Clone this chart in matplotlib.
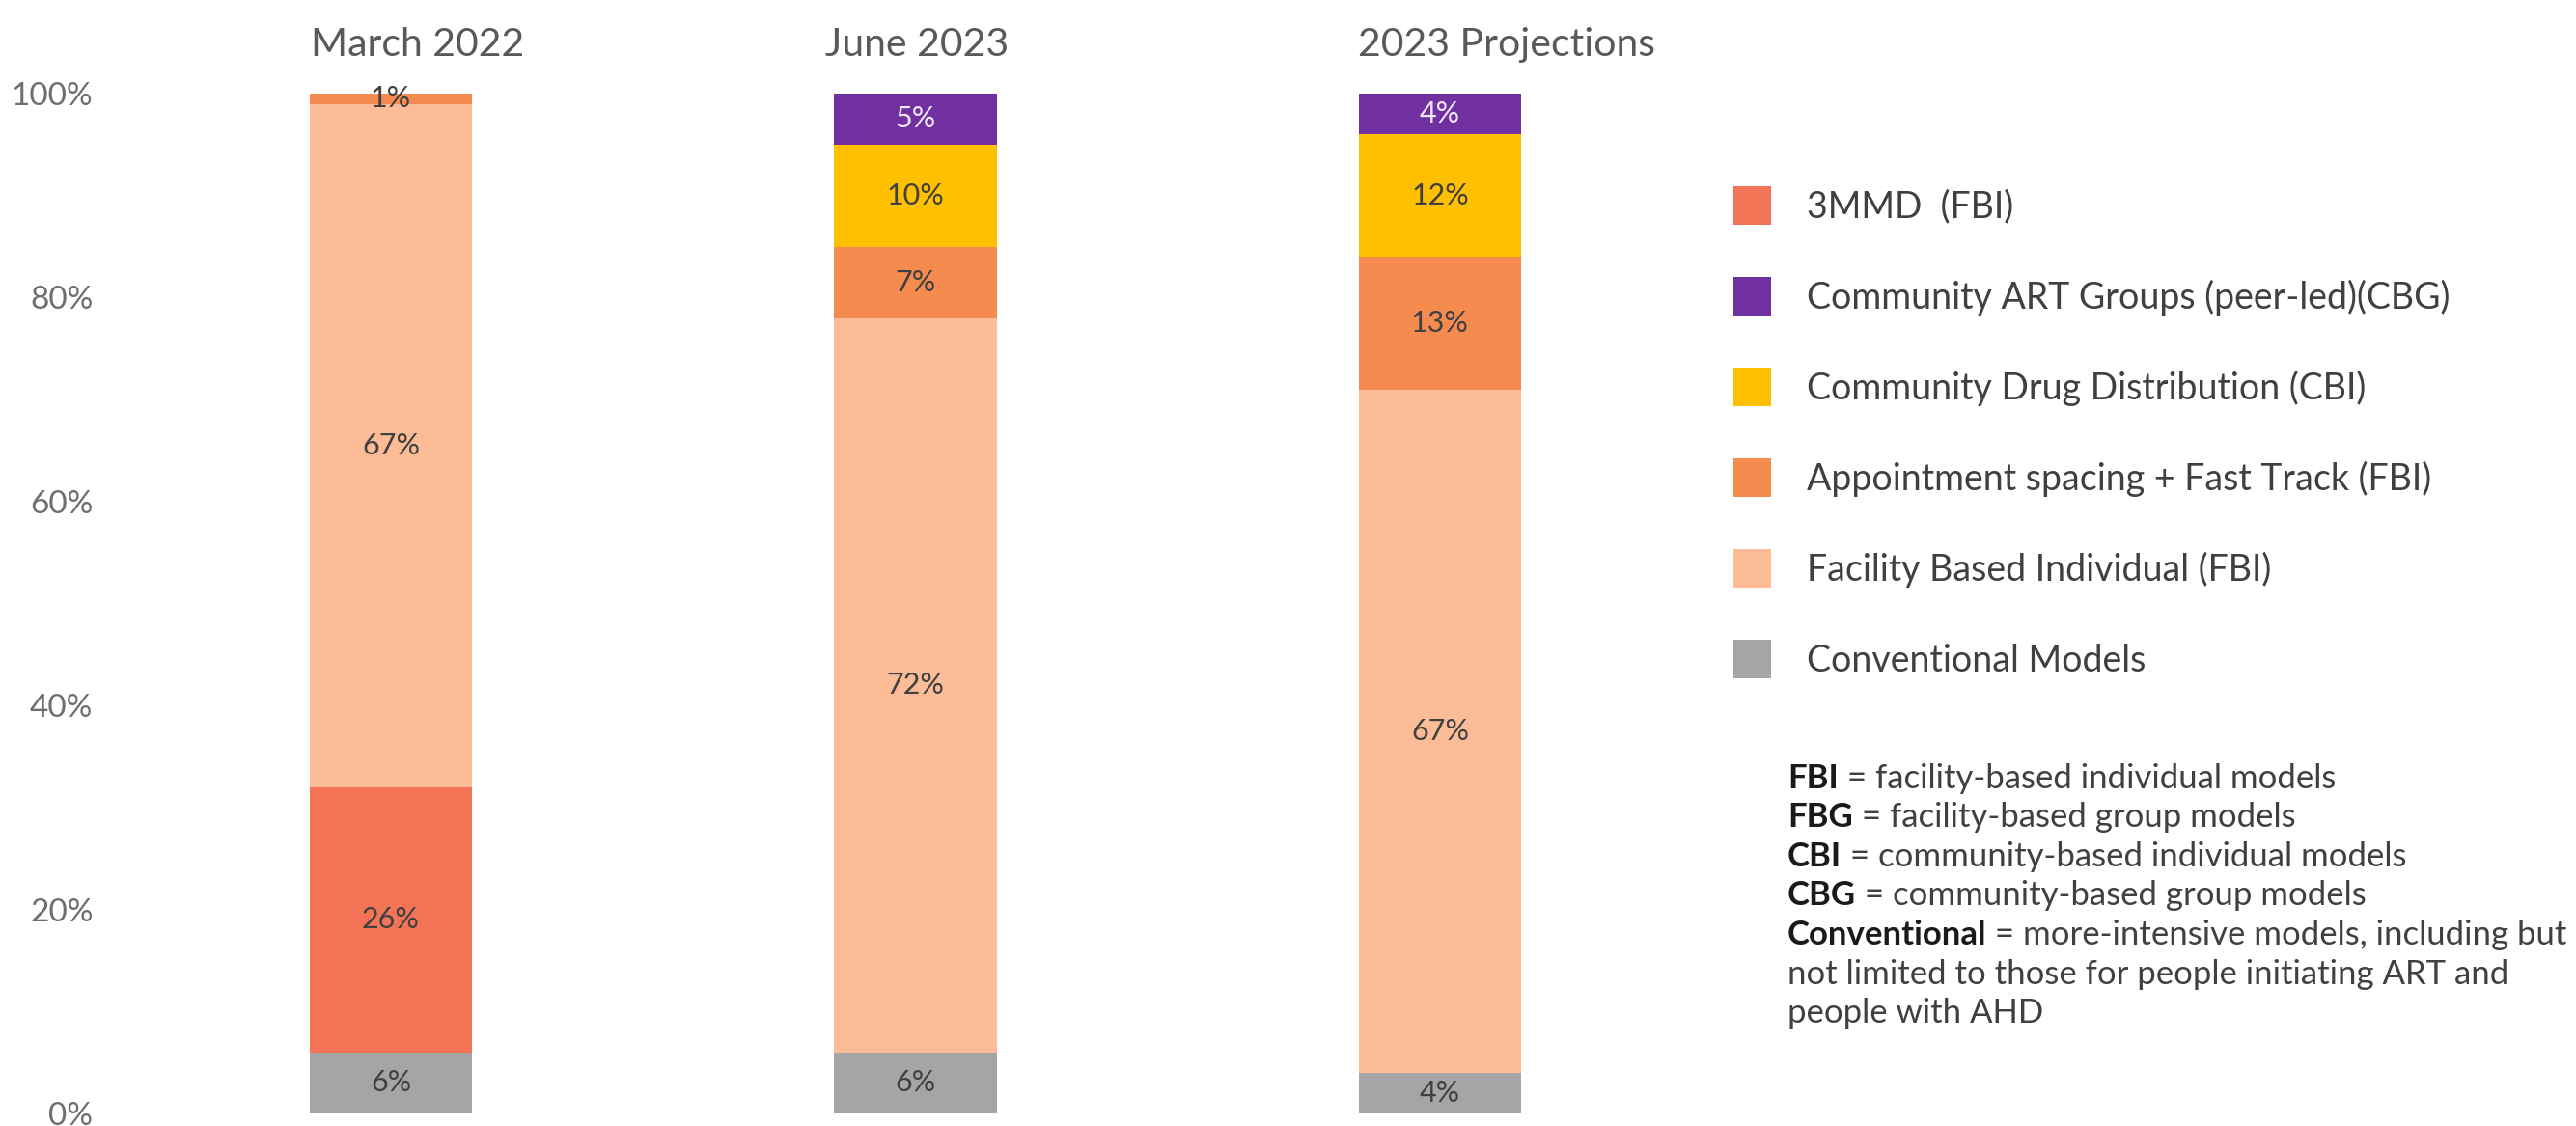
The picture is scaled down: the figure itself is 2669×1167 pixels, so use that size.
import matplotlib
matplotlib.use("Agg")
import matplotlib.pyplot as plt
import numpy as np

plt.rcParams['font.family'] = ['Lato', 'DejaVu Sans']

periods = ["March 2022", "June 2023", "2023 Projections"]
conventional = [6, 6, 4]
facility_based = [67, 72, 67]
appointment = [1, 7, 13]
drug_distribution = [0, 10, 12]
art_groups = [0, 5, 4]
mmd3 = [26, 0, 0]
# stacking order bottom->top per bar
stack_order = ["Conventional Models", "3MMD  (FBI)", "Facility Based Individual (FBI)",
               "Appointment spacing + Fast Track (FBI)", "Community Drug Distribution (CBI)",
               "Community ART Groups (peer-led)(CBG)"]
values = {
    "Conventional Models": conventional,
    "3MMD  (FBI)": mmd3,
    "Facility Based Individual (FBI)": facility_based,
    "Appointment spacing + Fast Track (FBI)": appointment,
    "Community Drug Distribution (CBI)": drug_distribution,
    "Community ART Groups (peer-led)(CBG)": art_groups,
}
colors = {
    "Conventional Models": "#A5A5A5",
    "3MMD  (FBI)": "#F47458",
    "Facility Based Individual (FBI)": "#FBBC97",
    "Appointment spacing + Fast Track (FBI)": "#F68B50",
    "Community Drug Distribution (CBI)": "#FFC000",
    "Community ART Groups (peer-led)(CBG)": "#7030A0",
}
legend_order = ["3MMD  (FBI)", "Community ART Groups (peer-led)(CBG)",
                "Community Drug Distribution (CBI)", "Appointment spacing + Fast Track (FBI)",
                "Facility Based Individual (FBI)", "Conventional Models"]
yticks = [0, 20, 40, 60, 80, 100]
ytick_labels = ["0%", "20%", "40%", "60%", "80%", "100%"]
notes = [("FBI", " = facility-based individual models"),
         ("FBG", " = facility-based group models"),
         ("CBI", " = community-based individual models"),
         ("CBG", " = community-based group models"),
         ("Conventional", " = more-intensive models, including but")]
notes_extra = ["not limited to those for people initiating ART and", "people with AHD"]

W, H = 2669, 1167
fig = plt.figure(figsize=(W / 100, H / 100), dpi=100)
ax_left, ax_right, ax_top, ax_bot = 120, 1700, 97, 1154
ax = fig.add_axes([ax_left / W, (H - ax_bot) / H, (ax_right - ax_left) / W, (ax_bot - ax_top) / H])

x = np.arange(len(periods))
bar_w = 0.31
bottoms = np.zeros(len(periods))
handles = {}
for name in stack_order:
    vals = np.array(values[name], dtype=float)
    bars = ax.bar(x, vals, bar_w, bottom=bottoms, color=colors[name], linewidth=0)
    handles[name] = bars
    for i, v in enumerate(vals):
        if v > 0:
            tc = "#F0E6FA" if name.startswith("Community ART") else "#404040"
            ax.text(x[i], bottoms[i] + v / 2, f"{int(v)}%", ha="center", va="center",
                    fontsize=22, color=tc)
    bottoms += vals

px_per_unit = 543.5
ax.set_xlim((ax_left - 405) / px_per_unit, (ax_right - 405) / px_per_unit)
ax.set_ylim(0, 100)
ax.set_yticks(yticks)
ax.set_yticklabels(ytick_labels, fontsize=24, color="#6E6E6E")
ax.tick_params(axis="y", length=0, pad=17)
ax.set_xticks([])
for s in ax.spines.values():
    s.set_visible(False)

title_x = [0.05, 1.003, 2.127]
for tx, t in zip(title_x, periods):
    ax.text(tx, 104.8, t, ha="center", va="center", fontsize=29.5, color="#595959", clip_on=False)

fig.legend([handles[n] for n in legend_order], legend_order, loc="upper left",
           bbox_to_anchor=(1796 / W, (H - 193) / H), frameon=False, fontsize=27,
           handlelength=1.04, handleheight=1.28, handletextpad=0.99, labelspacing=1.43,
           borderpad=0, borderaxespad=0, labelcolor="#404040")

note_x = 1852 / W
ys = [807, 847, 888, 928, 969]
for (b, rest), yy in zip(notes, ys):
    t1 = fig.text(note_x, (H - yy) / H, b, fontsize=25, fontweight="bold", color="#1a1a1a",
                  ha="left", va="center")
    ax.annotate(rest, xy=(1, 0.5), xycoords=t1, ha="left", va="center", fontsize=25,
                color="#404040", annotation_clip=False)
for line, yy in zip(notes_extra, [1010, 1050]):
    fig.text(note_x, (H - yy) / H, line, fontsize=25, color="#404040", ha="left", va="center")

fig.savefig("out.png", dpi=100)
